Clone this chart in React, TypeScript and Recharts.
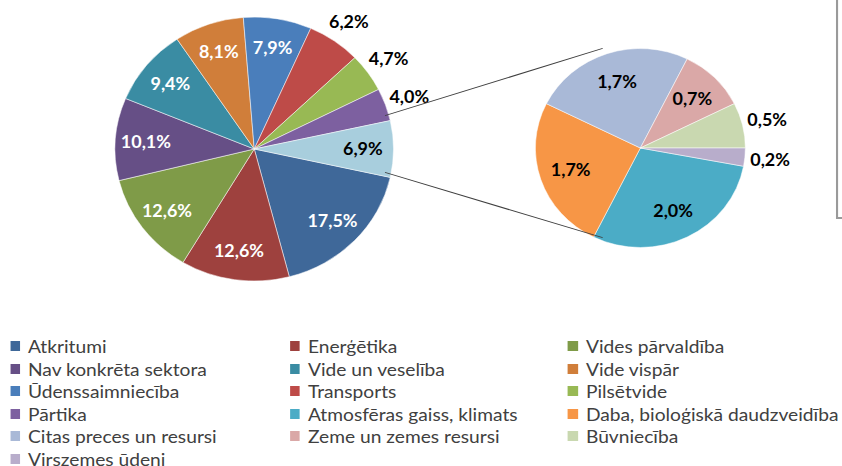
import React from "react";
import { PieChart, Pie, Cell } from "recharts";

// main pie, clockwise; the last slice is the one split into the small pie
const mainNames = [
  "Atkritumi",
  "Enerģētika",
  "Vides pārvaldība",
  "Nav konkrēta sektora",
  "Vide un veselība",
  "Vide vispār",
  "Ūdenssaimniecība",
  "Transports",
  "Pilsētvide",
  "Pārtika",
  "Citi",
];
const mainValues = [17.5, 12.6, 12.6, 10.1, 9.4, 8.1, 7.9, 6.2, 4.7, 4.0, 6.9];
const mainColors = [
  "#3F6899", "#9E413E", "#7F9B48", "#664F86", "#3A8CA3", "#D07E3A",
  "#4A7EBB", "#BE4B48", "#98B954", "#7D60A0", "#A8CEDD",
];

// the split-out pie
const subNames = [
  "Atmosfēras gaiss, klimats",
  "Daba, bioloģiskā daudzveidība",
  "Citas preces un resursi",
  "Zeme un zemes resursi",
  "Būvniecība",
  "Virszemes ūdeni",
];
const subValues = [2.0, 1.7, 1.7, 0.7, 0.5, 0.2];
const subColors = ["#4BACC6", "#F79646", "#A9B9D7", "#DAA8A7", "#C9D8B0", "#B8ADCB"];

const outsideLabels = ["Transports", "Pilsētvide", "Pārtika", "Būvniecība", "Virszemes ūdeni"];
const darkLabels = ["Citi"];

const STRETCH = 1.055;
const W = 842 / STRETCH;
const MAIN = { cx: 236, cy: 144, r: 132 };
const SUB = { cx: 602, cy: 143, r: 99.5 };
const LINK_ANGLE = 108;
const FONT = "Lato, 'Open Sans', sans-serif";
const RAD = Math.PI / 180;

const sum = (a: number[]) => a.reduce((s, v) => s + v, 0);
const mainTotal = sum(mainValues);
const subTotal = sum(subValues);
const mainStart = -((mainValues[mainValues.length - 1] / 2) / mainTotal) * 360;
const subStart = -(subValues[subValues.length - 1] / subTotal) * 360;

const mainData = mainNames.map((name, i) => ({ name, value: mainValues[i] }));
const subData = subNames.map((name, i) => ({ name, value: subValues[i] }));

const fmt = (v: number) => `${v.toFixed(1).replace(".", ",")}%`;

function makeLabel(inner: number, small: boolean) {
  return (props: any) => {
    const { cx, cy, midAngle, outerRadius, name, value } = props;
    const outside = outsideLabels.includes(name);
    const r = outside ? outerRadius + 24 : outerRadius * inner;
    const x = cx + r * Math.cos(midAngle * RAD);
    const y = cy - r * Math.sin(midAngle * RAD);
    const dark = small || outside || darkLabels.includes(name);
    return (
      <text
        x={x}
        y={y}
        textAnchor="middle"
        dominantBaseline="central"
        fill={dark ? "#000" : "#fff"}
        fontFamily={FONT}
        fontWeight={700}
        fontSize={17}
      >
        {fmt(value)}
      </text>
    );
  };
}

const legendItems = [
  ...mainNames.slice(0, -1).map((n, i) => ({ name: n, color: mainColors[i] })),
  ...subNames.map((n, i) => ({ name: n, color: subColors[i] })),
];
const legendCols = [9.5, 274.9, 538.4];

export default function App() {
  const a = (mainValues[mainValues.length - 1] / 2 / mainTotal) * 360;
  const p1 = [MAIN.cx + MAIN.r * Math.cos(a * RAD), MAIN.cy - MAIN.r * Math.sin(a * RAD)];
  const p2 = [MAIN.cx + MAIN.r * Math.cos(-a * RAD), MAIN.cy - MAIN.r * Math.sin(-a * RAD)];
  const q1 = [SUB.cx + SUB.r * Math.cos(LINK_ANGLE * RAD), SUB.cy - SUB.r * Math.sin(LINK_ANGLE * RAD)];
  const q2 = [SUB.cx + SUB.r * Math.cos(-LINK_ANGLE * RAD), SUB.cy - SUB.r * Math.sin(-LINK_ANGLE * RAD)];

  return (
    <div style={{ position: "absolute", left: 0, top: 0, width: 842, height: 466, overflow: "hidden", background: "#fff" }}>
      <div
        style={{
          position: "relative",
          width: W,
          height: 466,
          transform: `scaleX(${STRETCH})`,
          transformOrigin: "0 0",
          fontFamily: FONT,
        }}
      >
        <div style={{ position: "absolute", left: 0, top: 0 }}>
          <PieChart width={W} height={300}>
            <Pie
              data={mainData}
              dataKey="value"
              nameKey="name"
              cx={MAIN.cx}
              cy={MAIN.cy}
              outerRadius={MAIN.r}
              startAngle={mainStart}
              endAngle={mainStart - 360}
              stroke="#fff"
              strokeWidth={0.5}
              label={makeLabel(0.78, false)}
              labelLine={false}
              isAnimationActive={false}
            >
              {mainData.map((d, i) => (
                <Cell key={d.name} fill={mainColors[i]} />
              ))}
            </Pie>
            <Pie
              data={subData}
              dataKey="value"
              nameKey="name"
              cx={SUB.cx}
              cy={SUB.cy}
              outerRadius={SUB.r}
              startAngle={subStart}
              endAngle={subStart - 360}
              stroke="#fff"
              strokeWidth={0.5}
              label={makeLabel(0.7, true)}
              labelLine={false}
              isAnimationActive={false}
            >
              {subData.map((d, i) => (
                <Cell key={d.name} fill={subColors[i]} />
              ))}
            </Pie>
          </PieChart>
        </div>
        <svg width={W} height={300} style={{ position: "absolute", left: 0, top: 0, pointerEvents: "none" }}>
          <line x1={p1[0]} y1={p1[1]} x2={q1[0]} y2={q1[1]} stroke="#404040" strokeWidth={1} />
          <line x1={p2[0]} y1={p2[1]} x2={q2[0]} y2={q2[1]} stroke="#404040" strokeWidth={1} />
          <polyline points={`793.4,-2 793.4,218 ${W + 2},218`} fill="none" stroke="#9a9a9a" strokeWidth={2} />
        </svg>
        <div style={{ position: "absolute", left: 0, top: 334.8 }}>
          {legendItems.map((it, i) => {
            const col = i % 3;
            const row = Math.floor(i / 3);
            return (
              <div
                key={it.name}
                style={{
                  position: "absolute",
                  left: legendCols[col],
                  top: row * 22.6,
                  height: 22.6,
                  display: "flex",
                  alignItems: "center",
                  whiteSpace: "nowrap",
                }}
              >
                <span style={{ width: 9.5, height: 10, background: it.color, display: "inline-block" }} />
                <span style={{ marginLeft: 7.5, fontSize: 18.2, lineHeight: "20px", color: "#404040" }}>{it.name}</span>
              </div>
            );
          })}
        </div>
      </div>
    </div>
  );
}
